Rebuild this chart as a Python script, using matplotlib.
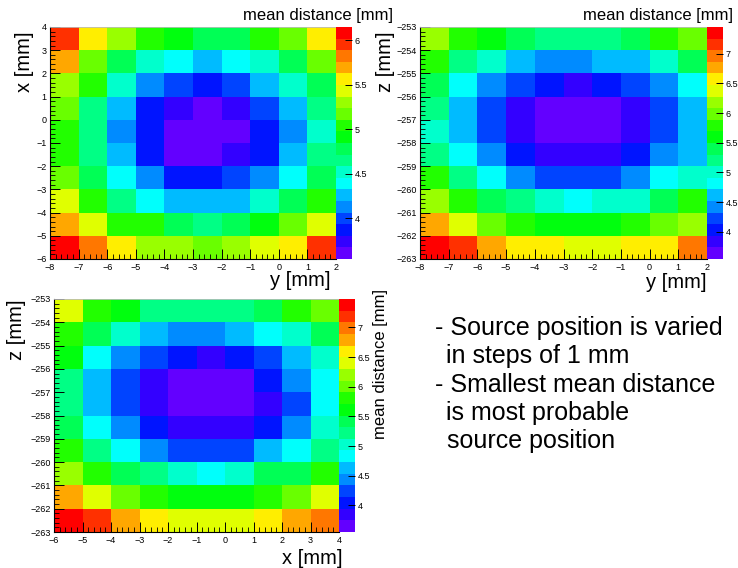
import colorsys
import numpy as np
import matplotlib
matplotlib.use("Agg")
import matplotlib.pyplot as plt
from matplotlib.colors import ListedColormap, BoundaryNorm
from matplotlib.ticker import MultipleLocator, FuncFormatter

plt.rcParams['font.family'] = ['Liberation Sans', 'DejaVu Sans']

W, H = 738, 568

# scan grid bin edges [mm]
y_edges = np.arange(-8, 3)        # -8 ... 2
x_edges = np.arange(-6, 5)        # -6 ... 4
z_edges = np.arange(-263, -252)   # -263 ... -253

# mean distance [mm]; rows listed from the upper edge of each map downwards
mean_dist_xy = [  # rows: x = 4 -> -6, columns: y = -8 -> 2
    [5.95, 5.56, 5.30, 5.04, 4.91, 4.78, 4.78, 5.04, 5.17, 5.56],
    [5.69, 5.17, 4.78, 4.52, 4.39, 4.26, 4.39, 4.52, 4.78, 5.17],
    [5.30, 5.04, 4.52, 4.13, 4.00, 3.87, 4.00, 4.26, 4.52, 4.78],
    [5.17, 4.65, 4.26, 3.87, 3.74, 3.61, 3.74, 4.00, 4.26, 4.65],
    [5.04, 4.65, 4.13, 3.87, 3.61, 3.61, 3.61, 3.87, 4.13, 4.52],
    [5.04, 4.65, 4.26, 3.87, 3.61, 3.61, 3.74, 3.87, 4.26, 4.65],
    [5.17, 4.78, 4.39, 4.13, 3.87, 3.87, 4.00, 4.13, 4.39, 4.78],
    [5.43, 5.04, 4.65, 4.39, 4.26, 4.26, 4.26, 4.52, 4.78, 5.04],
    [5.69, 5.43, 5.04, 5.04, 4.78, 4.65, 4.78, 4.91, 5.17, 5.43],
    [6.09, 5.82, 5.56, 5.30, 5.30, 5.17, 5.30, 5.43, 5.56, 5.95],
]

mean_dist_zy = [  # rows: z = -253 -> -263, columns: y = -8 -> 2
    [6.18, 5.79, 5.59, 5.40, 5.20, 5.20, 5.20, 5.40, 5.79, 5.98],
    [5.79, 5.20, 5.01, 4.62, 4.42, 4.42, 4.62, 4.62, 5.01, 5.40],
    [5.40, 4.81, 4.42, 4.22, 4.03, 3.83, 4.03, 4.22, 4.42, 4.81],
    [5.20, 4.62, 4.22, 3.83, 3.64, 3.64, 3.64, 3.83, 4.22, 4.62],
    [5.01, 4.62, 4.22, 3.83, 3.64, 3.64, 3.64, 3.83, 4.22, 4.62],
    [5.20, 4.81, 4.42, 4.03, 3.83, 3.83, 3.83, 4.03, 4.42, 4.62],
    [5.79, 5.20, 4.81, 4.42, 4.22, 4.22, 4.22, 4.42, 4.81, 5.01],
    [6.18, 5.79, 5.40, 5.20, 5.01, 4.81, 5.01, 5.01, 5.40, 5.79],
    [6.77, 6.37, 5.98, 5.79, 5.59, 5.59, 5.59, 5.79, 5.98, 6.18],
    [7.35, 7.16, 6.77, 6.57, 6.57, 6.37, 6.37, 6.57, 6.57, 6.96],
]

mean_dist_zx = [  # rows: z = -253 -> -263, columns: x = -6 -> 4
    [6.40, 5.81, 5.61, 5.22, 5.22, 5.22, 5.22, 5.42, 5.81, 6.01],
    [5.81, 5.42, 5.02, 4.63, 4.43, 4.43, 4.63, 4.83, 5.02, 5.42],
    [5.61, 4.83, 4.43, 4.24, 4.04, 3.84, 4.04, 4.24, 4.63, 5.02],
    [5.22, 4.63, 4.24, 3.84, 3.65, 3.65, 3.65, 4.04, 4.43, 4.83],
    [5.22, 4.63, 4.24, 3.84, 3.65, 3.65, 3.65, 3.84, 4.24, 4.83],
    [5.42, 4.83, 4.43, 4.04, 3.84, 3.84, 3.84, 4.04, 4.43, 5.02],
    [5.81, 5.22, 4.83, 4.43, 4.24, 4.24, 4.24, 4.63, 4.83, 5.22],
    [6.20, 5.81, 5.42, 5.22, 5.02, 4.83, 5.02, 5.42, 5.42, 5.81],
    [6.79, 6.40, 6.01, 5.81, 5.61, 5.61, 5.61, 5.81, 6.01, 6.40],
    [7.38, 7.19, 6.79, 6.60, 6.40, 6.40, 6.40, 6.60, 6.79, 6.99],
]

# colour-axis ranges and ticks
zrange_xy = (3.54, 6.15)
zrange_zy = (3.54, 7.45)
zrange_zx = (3.55, 7.48)
zticks_xy = [4, 4.5, 5, 5.5, 6]
zticks_z = [4, 4.5, 5, 5.5, 6, 6.5, 7]

notes = [
    "- Source position is varied",
    "in steps of 1 mm",
    "- Smallest mean distance",
    "is most probable",
    "source position",
]

N_CONT = 20


def rainbow_palette(n=N_CONT, n_base=50):
    """Pretty rainbow palette (HLS hue sweep 280 -> 0) sampled into n contours."""
    cols = []
    for k in range(n):
        idx = int((k + 0.99) * n_base / n)
        hue = 280.0 - (idx + 1) * (280.0 / n_base)
        cols.append(colorsys.hls_to_rgb(hue / 360.0, 0.5, 1.0))
    return ListedColormap(cols)


cmap = rainbow_palette()
fig = plt.figure(figsize=(W / 100, H / 100), dpi=100)


def px_rect(l, t, r, b):
    return [l / W, 1 - b / H, (r - l) / W, (b - t) / H]


def ftext(x, y, s, **kw):
    return fig.text(x / W, 1 - y / H, s, **kw)


def draw_map(ax_box, cb_box, col_edges, row_edges_top_down, values, zrange, zticks):
    ax = fig.add_axes(px_rect(*ax_box))
    cax = fig.add_axes(px_rect(*cb_box))
    levels = np.linspace(zrange[0], zrange[1], N_CONT + 1)
    norm = BoundaryNorm(levels, cmap.N)
    mesh = ax.pcolormesh(col_edges, row_edges_top_down, np.asarray(values),
                         cmap=cmap, norm=norm, antialiased=False, linewidth=0)
    ax.set_xlim(col_edges[0], col_edges[-1])
    ax.set_ylim(min(row_edges_top_down), max(row_edges_top_down))
    for axis in (ax.xaxis, ax.yaxis):
        axis.set_major_locator(MultipleLocator(1))
        axis.set_minor_locator(MultipleLocator(0.2))
    ax.tick_params(which='major', direction='in', length=7, width=0.7,
                   labelsize=6.5, pad=2.5, top=False, right=False)
    ax.tick_params(which='minor', direction='in', length=3.5, width=0.6,
                   top=False, right=False)
    ax.tick_params(axis='x', pad=3)
    for side in ('left', 'bottom'):
        ax.spines[side].set_linewidth(0.8)
    for side in ('top', 'right'):
        ax.spines[side].set_color('#bbbbbb')
        ax.spines[side].set_linewidth(0.6)

    cb = fig.colorbar(mesh, cax=cax, ticks=zticks)
    cb.outline.set_visible(False)
    cb.ax.minorticks_off()
    cb.ax.tick_params(direction='in', length=5, width=0.7, labelsize=6.5, pad=2)
    cb.ax.yaxis.set_major_formatter(FuncFormatter(lambda v, p: f"{v:g}"))
    return ax, cb


# x vs y
draw_map((50, 27, 336, 259), (336, 27, 352, 259),
         y_edges, x_edges[::-1], mean_dist_xy, zrange_xy, zticks_xy)
ftext(393, 20, "mean distance [mm]", ha='right', va='baseline', fontsize=12)
ftext(25, 32, "x [mm]", rotation=90, ha='center', va='top', fontsize=14.5)
ftext(331, 271, "y [mm]", ha='right', va='top', fontsize=14.5)

# z vs y
draw_map((420, 27, 707, 259), (707, 27, 723, 259),
         y_edges, z_edges[::-1], mean_dist_zy, zrange_zy, zticks_z)
ftext(733, 20, "mean distance [mm]", ha='right', va='baseline', fontsize=12)
ftext(386, 31, "z [mm]", rotation=90, ha='center', va='top', fontsize=14.5)
ftext(707, 273, "y [mm]", ha='right', va='top', fontsize=14.5)

# z vs x
draw_map((54, 299, 339, 532), (339, 299, 355, 532),
         x_edges, z_edges[::-1], mean_dist_zx, zrange_zx, zticks_z)
ftext(381, 289, "mean distance [mm]", rotation=90, ha='center', va='top', fontsize=12)
ftext(16, 299, "z [mm]", rotation=90, ha='center', va='top', fontsize=14.5)
ftext(342, 549, "x [mm]", ha='right', va='top', fontsize=14.5)

# notes
note_x = [435, 446, 435, 446, 447]
note_y = [335, 363, 392, 420, 448]
for s, nx, ny in zip(notes, note_x, note_y):
    ftext(nx, ny, s, ha='left', va='baseline', fontsize=18)

fig.savefig("out.png", dpi=100)
